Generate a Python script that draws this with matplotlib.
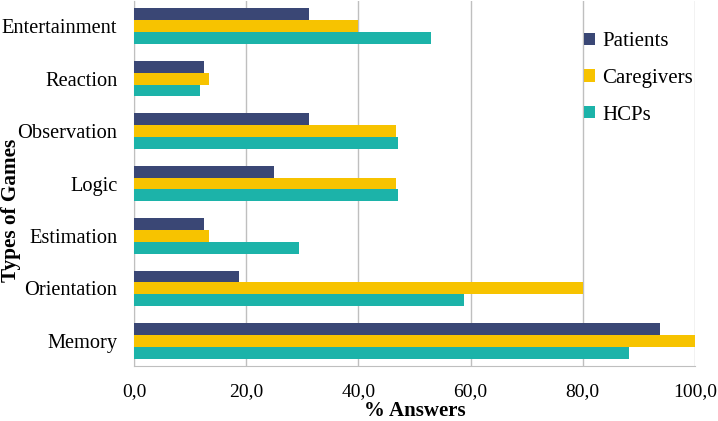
import matplotlib
matplotlib.use("Agg")
import matplotlib.pyplot as plt
import numpy as np

categories = ["Memory", "Orientation", "Estimation", "Logic", "Observation", "Reaction", "Entertainment"]
patients = [93.75, 18.75, 12.5, 25.0, 31.25, 12.5, 31.25]
caregivers = [100.0, 80.0, 13.3, 46.7, 46.7, 13.3, 40.0]
hcps = [88.2, 58.8, 29.4, 47.1, 47.1, 11.8, 52.9]
series_names = ["Patients", "Caregivers", "HCPs"]
xticks = [0, 20, 40, 60, 80, 100]
xtick_labels = ["0,0", "20,0", "40,0", "60,0", "80,0", "100,0"]

colors = ["#3A4775", "#F7C300", "#1CB3A9"]

plt.rcParams['font.family'] = ['Liberation Serif', 'DejaVu Serif']

fig = plt.figure(figsize=(7.18, 4.21), dpi=100)
ax = fig.add_axes([134/718, 1 - 366/421, (695-134)/718, 365/421])

y = np.arange(len(categories))
h = 0.225
for i, (vals, name) in enumerate(zip([patients, caregivers, hcps], series_names)):
    offset = (1 - i) * h
    ax.barh(y + offset, vals, height=h, color=colors[i], label=name, zorder=3)

ax.set_xlim(0, 100)
ax.set_ylim(-0.48, len(categories) - 0.52)
ax.set_xticks(xticks)
ax.set_xticklabels(xtick_labels, fontsize=14)
ax.set_yticks(y)
ax.set_yticklabels(categories, fontsize=14.7)
ax.tick_params(axis='y', length=0, pad=12)
ax.tick_params(axis='x', length=0, pad=12)
ax.xaxis.grid(True, color="#BFBFBF", linewidth=1, zorder=0)
for s in ["top", "right"]:
    ax.spines[s].set_visible(False)
for s in ["left", "bottom"]:
    ax.spines[s].set_color("#BFBFBF")
ax.set_xlabel("% Answers", fontsize=15, fontweight="bold")
ax.xaxis.set_label_coords(0.5, -35/365, transform=ax.transAxes)
ax.set_ylabel("Types of Games", fontsize=15.3, fontweight="bold")
ax.yaxis.set_label_coords(-113/561, 0.425, transform=ax.transAxes)

leg = ax.legend(loc="upper left", bbox_to_anchor=(0.768, 0.966), frameon=False,
                fontsize=15, handlelength=0.55, handleheight=0.55, handletextpad=0.35,
                labelspacing=0.85)

fig.savefig("out.png", dpi=100)
